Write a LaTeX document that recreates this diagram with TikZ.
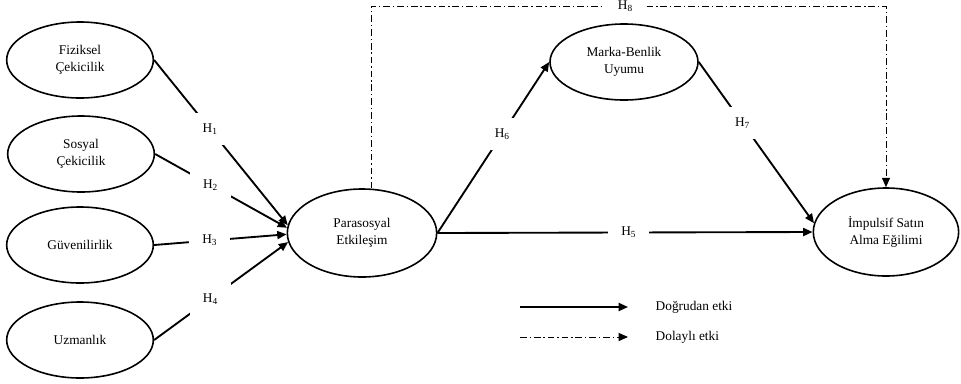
\documentclass[tikz,border=0pt]{standalone}
\usepackage{fontspec}
\setmainfont{Liberation Serif}
\usetikzlibrary{shapes.geometric,arrows.meta}

\begin{document}
\begin{tikzpicture}[x=0.75pt,y=-0.75pt,
  latent/.style={ellipse,draw,line width=1.2pt,inner sep=0pt,align=center,
    font=\fontsize{10}{13}\selectfont},
  small/.style={latent,minimum width=110pt,minimum height=57pt},
  big/.style={latent,minimum width=112pt,minimum height=66pt},
  direct/.style={line width=1.4pt,-{Triangle[length=7pt,width=6pt]}},
  indirect/.style={line width=0.7pt,dash pattern=on 5pt off 2.2pt on 1pt off 2.2pt,
    -{Triangle[length=7pt,width=6pt]}},
  hyp/.style={fill=white,inner sep=0pt,minimum width=31pt,minimum height=24pt,
    font=\fontsize{10}{12}\selectfont},
  legend/.style={anchor=west,font=\fontsize{10}{12}\selectfont}
]
\useasboundingbox (0,0) rectangle (961,383);

% constructs
\node[small] (fiz) at (80,60)  {Fiziksel\\Çekicilik};
\node[small] (sos) at (81,154) {Sosyal\\Çekicilik};
\node[small] (guv) at (80,245) {Güvenilirlik};
\node[small] (uzm) at (80,340) {Uzmanlık};
\node[big]   (para) at (362,233) {Parasosyal\\Etkileşim};
\node[small,minimum width=111pt] (mar) at (624,62) {Marka-Benlik\\Uyumu};
\node[big,minimum width=109pt] (imp) at (886,232) {İmpulsif Satın\\Alma Eğilimi};

% direct effects
\draw[direct] (fiz.east) -- node[hyp,pos=0.42]{H\textsubscript{1}} (para.174);
\draw[direct] (sos.east) -- node[hyp,pos=0.42]{H\textsubscript{2}} (para.176);
\draw[direct] (guv.east) -- node[hyp,pos=0.42]{H\textsubscript{3}} (para.181);
\draw[direct] (uzm.east) -- node[hyp,pos=0.42]{H\textsubscript{4}} (para.187);
\draw[direct] (para.east) -- node[hyp,pos=0.51]{H\textsubscript{5}} (imp.west);
\draw[direct] (para.east) -- node[hyp,pos=0.58]{H\textsubscript{6}} (mar.west);
\draw[direct] (mar.east) -- node[hyp,pos=0.38]{H\textsubscript{7}} (imp.173);

% indirect effect
\draw[indirect] ([xshift=6.75pt]para.north) -- ++(0,-182)
  -| node[hyp,pos=0.247]{H\textsubscript{8}} (imp.north);

% legend
\coordinate (la) at (520,307);
\coordinate (lb) at (628,307);
\coordinate (lc) at (520,337);
\coordinate (ld) at (628,337);
\draw[direct] (la) -- (lb);
\draw[indirect] (lc) -- (ld);
\node[legend] (ta) at (651,307) {Doğrudan etki};
\node[legend] (tb) at (651,337) {Dolaylı etki};
\end{tikzpicture}
\end{document}
